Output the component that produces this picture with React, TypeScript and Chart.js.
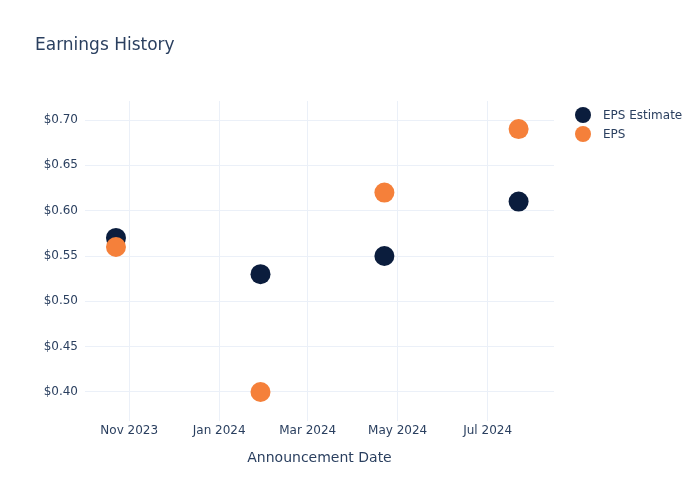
import React, { useEffect, useRef } from "react";
import { Chart, registerables } from "chart.js";

Chart.register(...registerables);

const chartTitle = "Earnings History";
const xAxisTitle = "Announcement Date";
const announcementDates = ["2023-10-23", "2024-01-29", "2024-04-22", "2024-07-22"];
const estimateValues = [0.57, 0.53, 0.55, 0.61];
const epsValues = [0.56, 0.4, 0.62, 0.69];
const seriesNames = ["EPS Estimate", "EPS"];
const xTickDates = ["2023-11-01", "2024-01-01", "2024-03-01", "2024-05-01", "2024-07-01"];
const xTickLabels = ["Nov 2023", "Jan 2024", "Mar 2024", "May 2024", "Jul 2024"];
const yTickValues = [0.4, 0.45, 0.5, 0.55, 0.6, 0.65, 0.7];
const xRange = ["2023-10-02", "2024-08-15"];
const yRange = [0.368, 0.721];

const FONT = "'DejaVu Sans', Verdana, sans-serif";
const TEXT = "#2a3f5f";
const GRID = "#EBF0F8";
const NAVY = "#0B1D3D";
const ORANGE = "#F5803A";

const overlayPlugin = {
  id: "overlay",
  afterDraw(chart: any) {
    const ctx = chart.ctx;
    ctx.save();
    ctx.fillStyle = TEXT;
    ctx.font = `17px ${FONT}`;
    ctx.textAlign = "left";
    ctx.textBaseline = "alphabetic";
    ctx.fillText(chartTitle, 35, 50);
    const colors = [NAVY, ORANGE];
    seriesNames.forEach((name, i) => {
      const y = 115 + i * 19;
      ctx.beginPath();
      ctx.arc(583, y, 8, 0, Math.PI * 2);
      ctx.fillStyle = colors[i];
      ctx.fill();
      ctx.fillStyle = TEXT;
      ctx.font = `12px ${FONT}`;
      ctx.textBaseline = "middle";
      ctx.fillText(name, 603, y + 1);
    });
    ctx.restore();
  },
};

export default function App() {
  const ref = useRef<HTMLCanvasElement | null>(null);
  useEffect(() => {
    if (!ref.current) return;
    const chart = new Chart(ref.current, {
      type: "scatter",
      data: {
        datasets: [
          {
            label: seriesNames[0],
            data: announcementDates.map((d, i) => ({ x: Date.parse(d), y: estimateValues[i] })),
            backgroundColor: NAVY,
            borderColor: NAVY,
            pointRadius: 10,
            pointHoverRadius: 10,
            borderWidth: 0,
            order: 1,
          },
          {
            label: seriesNames[1],
            data: announcementDates.map((d, i) => ({ x: Date.parse(d), y: epsValues[i] })),
            backgroundColor: ORANGE,
            borderColor: ORANGE,
            pointRadius: 10,
            pointHoverRadius: 10,
            borderWidth: 0,
            order: 0,
          },
        ],
      },
      options: {
        animation: false,
        responsive: false,
        layout: { padding: { left: 35, right: 146, top: 101, bottom: 33 } },
        plugins: {
          legend: { display: false },
          title: { display: false },
          tooltip: { enabled: false },
        },
        scales: {
          x: {
            type: "linear",
            min: Date.parse(xRange[0]),
            max: Date.parse(xRange[1]),
            afterFit(scale: any) {
              scale.height = 46;
            },
            afterBuildTicks(scale: any) {
              scale.ticks = xTickDates.map((d) => ({ value: Date.parse(d) }));
            },
            ticks: {
              color: TEXT,
              font: { family: FONT, size: 12 },
              padding: 3,
              maxRotation: 0,
              autoSkip: false,
              callback: (v: any) => {
                const idx = xTickDates.findIndex((d) => Date.parse(d) === v);
                return idx >= 0 ? xTickLabels[idx] : "";
              },
            },
            grid: { color: GRID, drawTicks: false, lineWidth: 1 },
            border: { display: false },
            title: {
              display: true,
              text: xAxisTitle,
              color: TEXT,
              font: { family: FONT, size: 14 },
              padding: { top: 12, bottom: 0 },
            },
          },
          y: {
            type: "linear",
            min: yRange[0],
            max: yRange[1],
            afterFit(scale: any) {
              scale.width = 50;
            },
            afterBuildTicks(scale: any) {
              scale.ticks = yTickValues.map((v) => ({ value: v }));
            },
            ticks: {
              color: TEXT,
              font: { family: FONT, size: 12 },
              padding: 7,
              callback: (v: any) => "$" + Number(v).toFixed(2),
            },
            grid: { color: GRID, drawTicks: false, lineWidth: 1 },
            border: { display: false },
          },
        },
      },
      plugins: [overlayPlugin],
    } as any);
    return () => chart.destroy();
  }, []);
  return (
    <div style={{ position: "absolute", left: 0, top: 0, width: 700, height: 500, background: "#fff" }}>
      <canvas ref={ref} width={700} height={500} />
    </div>
  );
}
